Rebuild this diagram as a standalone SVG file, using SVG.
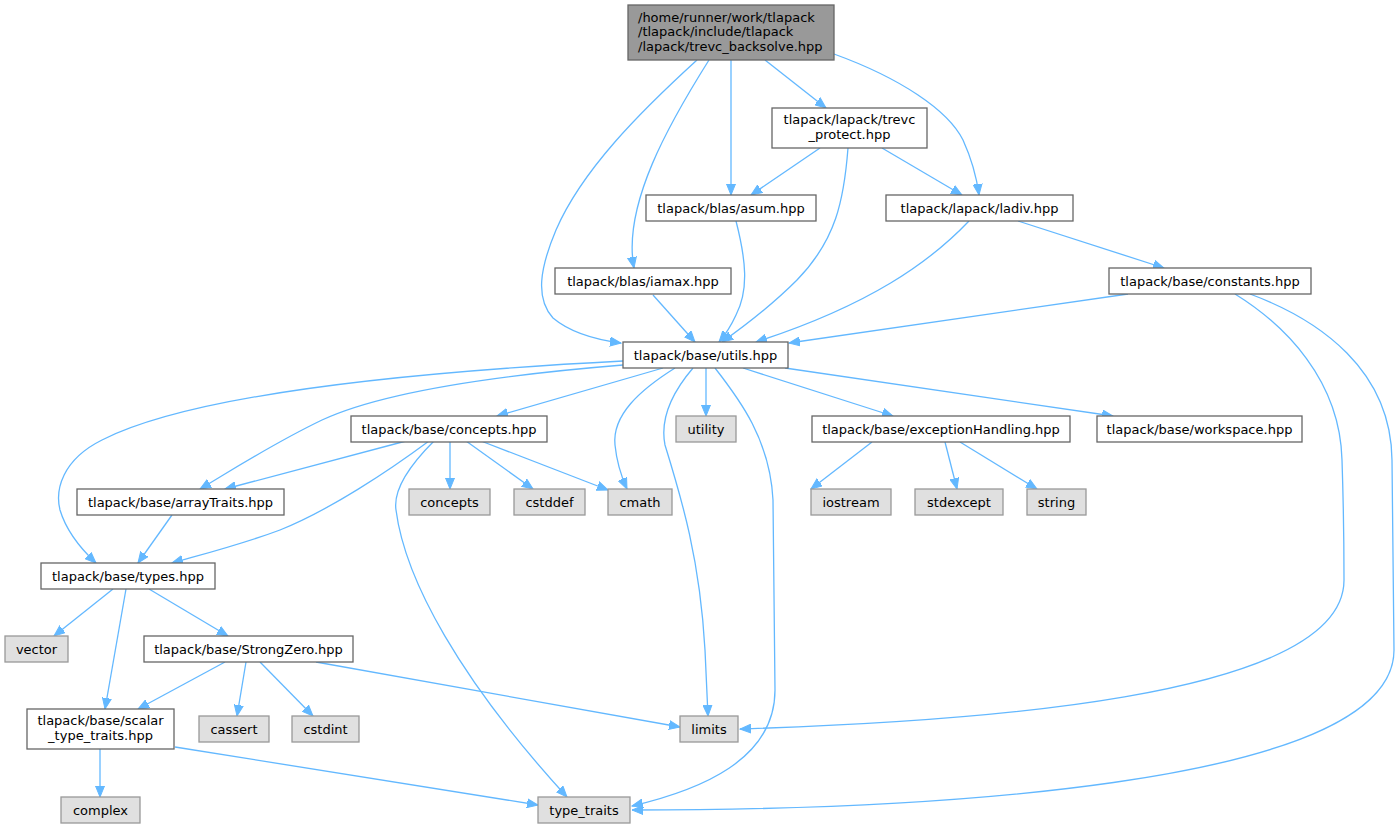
<svg xmlns="http://www.w3.org/2000/svg" width="1395" height="828" viewBox="0 0 1395 828">
<style>
.n rect{fill:#ffffff;stroke:#666666;stroke-width:1.3}
.s rect{fill:#e0e0e0;stroke:#999999;stroke-width:1.3}
.r rect{fill:#999999;stroke:#666666;stroke-width:1.3}
text{font-family:"DejaVu Sans","Noto Sans",sans-serif;font-size:13px;fill:#000000;text-anchor:middle}
.r text{text-anchor:start}
.e path{fill:none;stroke:#63b8ff;stroke-width:1.3}
</style>
<defs>
<marker id="a" markerUnits="userSpaceOnUse" markerWidth="12" markerHeight="10" refX="11" refY="5" orient="auto">
<path d="M0,0.5 L11,5 L0,9.5 Z" fill="#63b8ff" stroke="#63b8ff" stroke-width="1"/>
</marker>
</defs>
<g class="e" id="edges">
<path marker-end="url(#a)" d="M697,60 C640,112 582,170 556,230 C540,268 535,298 553,318 C572,334 598,340 621,343"/>
<path marker-end="url(#a)" d="M709,60 C670,122 622,205 634,268"/>
<path marker-end="url(#a)" d="M731,60 L731,195"/>
<path marker-end="url(#a)" d="M765,60 L826,108"/>
<path marker-end="url(#a)" d="M834,54 C900,78 948,110 963,140 C973,162 977,180 979,195"/>
<path marker-end="url(#a)" d="M820,148 L751,195"/>
<path marker-end="url(#a)" d="M848,148 C844,200 836,240 797,280 C772,305 746,325 722,342"/>
<path marker-end="url(#a)" d="M882,148 L962,195"/>
<path marker-end="url(#a)" d="M736,221 C746,260 749,290 736,315 C731,326 725,335 719,342"/>
<path marker-end="url(#a)" d="M653,295 L695,342"/>
<path marker-end="url(#a)" d="M969,221 C930,262 870,305 756,342"/>
<path marker-end="url(#a)" d="M1018,221 L1164,268"/>
<path marker-end="url(#a)" d="M1128,294 L789,343"/>
<path marker-end="url(#a)" d="M1235,294 C1285,325 1340,380 1342,460 C1344,520 1344,560 1344,580 C1344,700 960,722 740,729"/>
<path marker-end="url(#a)" d="M1250,294 C1320,320 1391,370 1392,460 L1394,650 C1394,790 900,810 632,810"/>
<path marker-end="url(#a)" d="M623,361 C450,370 200,390 102,440 C62,460 55,490 60,510 C66,530 80,548 96,563"/>
<path marker-end="url(#a)" d="M623,365 C500,375 382,392 322,420 C272,444 232,470 200,489"/>
<path marker-end="url(#a)" d="M663,368 L497,416"/>
<path marker-end="url(#a)" d="M675,368 C640,390 612,415 615,445 C617,465 622,478 627,489"/>
<path marker-end="url(#a)" d="M693,368 C670,395 660,420 665,445 C682,500 700,560 705,650 L708,716"/>
<path marker-end="url(#a)" d="M706,368 L706,416"/>
<path marker-end="url(#a)" d="M715,368 C740,400 770,440 773,500 L775,690 C775,760 700,790 632,806"/>
<path marker-end="url(#a)" d="M743,368 L893,416"/>
<path marker-end="url(#a)" d="M785,368 L1113,416"/>
<path marker-end="url(#a)" d="M406,441 L225,489"/>
<path marker-end="url(#a)" d="M429,441 C390,470 330,510 280,530 C240,545 200,555 172,563"/>
<path marker-end="url(#a)" d="M434,441 C410,465 393,490 396,510 C405,580 460,680 567,797"/>
<path marker-end="url(#a)" d="M450,441 L450,489"/>
<path marker-end="url(#a)" d="M466,441 L533,489"/>
<path marker-end="url(#a)" d="M481,441 L608,490"/>
<path marker-end="url(#a)" d="M872,442 L811,489"/>
<path marker-end="url(#a)" d="M945,442 L957,489"/>
<path marker-end="url(#a)" d="M960,442 L1037,489"/>
<path marker-end="url(#a)" d="M172,515 L138,563"/>
<path marker-end="url(#a)" d="M113,589 L54,636"/>
<path marker-end="url(#a)" d="M126,589 L105,709"/>
<path marker-end="url(#a)" d="M149,589 L228,636"/>
<path marker-end="url(#a)" d="M225,662 L138,709"/>
<path marker-end="url(#a)" d="M246,662 L237,716"/>
<path marker-end="url(#a)" d="M260,662 L313,716"/>
<path marker-end="url(#a)" d="M316,662 L680,727"/>
<path marker-end="url(#a)" d="M100,749 L100,797"/>
<path marker-end="url(#a)" d="M175,747 L538,805"/>
</g>
<g id="root" class="r"><rect x="628" y="5" width="206" height="55"/><text x="638" y="21.5">/home/runner/work/tlapack</text><text x="638" y="36">/tlapack/include/tlapack</text><text x="638" y="50.5">/lapack/trevc_backsolve.hpp</text></g>
<g id="trevc_protect" class="n"><rect x="772" y="108" width="155" height="40"/><text x="849.5" y="123.5">tlapack/lapack/trevc</text><text x="849.5" y="138.5">_protect.hpp</text></g>
<g id="asum" class="n"><rect x="646" y="195" width="170" height="26"/><text x="731" y="212.5">tlapack/blas/asum.hpp</text></g>
<g id="ladiv" class="n"><rect x="886" y="195" width="187" height="26"/><text x="979.5" y="212.5">tlapack/lapack/ladiv.hpp</text></g>
<g id="iamax" class="n"><rect x="555" y="268" width="176" height="26"/><text x="643" y="285.5">tlapack/blas/iamax.hpp</text></g>
<g id="constants" class="n"><rect x="1109" y="268" width="202" height="26"/><text x="1210" y="285.5">tlapack/base/constants.hpp</text></g>
<g id="utils" class="n"><rect x="623" y="342" width="165" height="26"/><text x="705.5" y="359.5">tlapack/base/utils.hpp</text></g>
<g id="concepts_hpp" class="n"><rect x="351" y="416" width="196" height="26"/><text x="449" y="433.5">tlapack/base/concepts.hpp</text></g>
<g id="utility" class="s"><rect x="676" y="416" width="60" height="26"/><text x="706" y="433.5">utility</text></g>
<g id="exceptionHandling" class="n"><rect x="812" y="416" width="258" height="26"/><text x="941" y="433.5">tlapack/base/exceptionHandling.hpp</text></g>
<g id="workspace" class="n"><rect x="1097" y="416" width="205" height="26"/><text x="1199.5" y="433.5">tlapack/base/workspace.hpp</text></g>
<g id="arrayTraits" class="n"><rect x="77" y="489" width="207" height="26"/><text x="180.5" y="506.5">tlapack/base/arrayTraits.hpp</text></g>
<g id="concepts" class="s"><rect x="409" y="489" width="81" height="26"/><text x="449.5" y="506.5">concepts</text></g>
<g id="cstddef" class="s"><rect x="514" y="489" width="71" height="26"/><text x="549.5" y="506.5">cstddef</text></g>
<g id="cmath" class="s"><rect x="608" y="489" width="64" height="26"/><text x="640" y="506.5">cmath</text></g>
<g id="iostream" class="s"><rect x="811" y="489" width="80" height="26"/><text x="851" y="506.5">iostream</text></g>
<g id="stdexcept" class="s"><rect x="915" y="489" width="88" height="26"/><text x="959" y="506.5">stdexcept</text></g>
<g id="string" class="s"><rect x="1027" y="489" width="59" height="26"/><text x="1056.5" y="506.5">string</text></g>
<g id="types" class="n"><rect x="41" y="563" width="174" height="26"/><text x="128" y="580.5">tlapack/base/types.hpp</text></g>
<g id="vector" class="s"><rect x="5" y="636" width="63" height="26"/><text x="36.5" y="653.5">vector</text></g>
<g id="StrongZero" class="n"><rect x="144" y="636" width="209" height="26"/><text x="248.5" y="653.5">tlapack/base/StrongZero.hpp</text></g>
<g id="scalar_type_traits" class="n"><rect x="27" y="709" width="147" height="40"/><text x="100.5" y="725">tlapack/base/scalar</text><text x="100.5" y="740">_type_traits.hpp</text></g>
<g id="cassert" class="s"><rect x="199" y="716" width="70" height="26"/><text x="234" y="733.5">cassert</text></g>
<g id="cstdint" class="s"><rect x="292" y="716" width="67" height="26"/><text x="325.5" y="733.5">cstdint</text></g>
<g id="limits" class="s"><rect x="680" y="716" width="58" height="26"/><text x="709" y="733.5">limits</text></g>
<g id="complex" class="s"><rect x="61" y="797" width="79" height="26"/><text x="100.5" y="814.5">complex</text></g>
<g id="type_traits" class="s"><rect x="538" y="797" width="92" height="26"/><text x="584" y="814.5">type_traits</text></g>
</svg>
